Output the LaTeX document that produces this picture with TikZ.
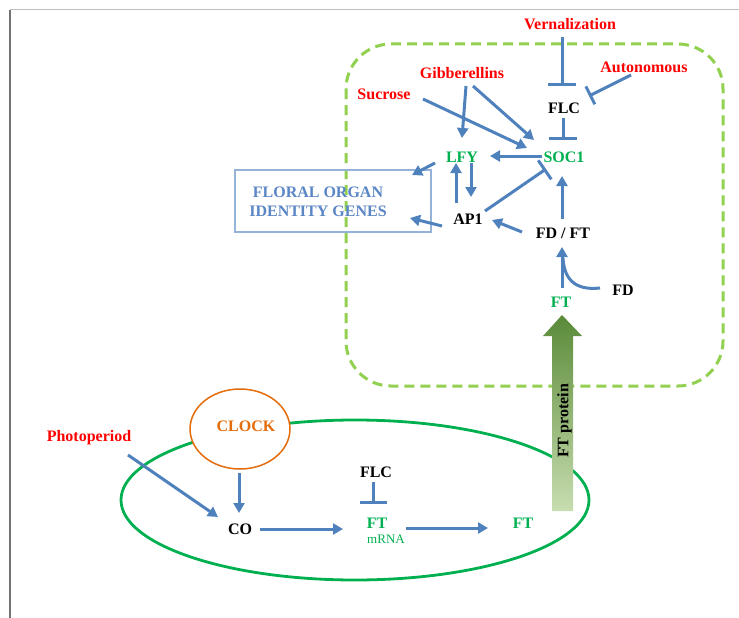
\documentclass[tikz,border=0pt]{standalone}
\usepackage{fontspec}
\setmainfont{Liberation Serif}
\usetikzlibrary{arrows.meta,shapes.geometric}
\definecolor{lblue}{HTML}{4F81BD}
\definecolor{boxblue}{HTML}{95B3D7}
\definecolor{floralblue}{HTML}{5A86C5}
\definecolor{dgreen}{HTML}{92D050}
\definecolor{egreen}{HTML}{00B050}
\definecolor{tgreen}{HTML}{00B050}
\definecolor{corange}{HTML}{E46C0A}
\definecolor{ftdark}{HTML}{5A8A38}
\definecolor{ftlight}{HTML}{C8DDB0}
\begin{document}
\begin{tikzpicture}[x=1pt,y=-1pt,
  lbl/.style={font=\fontsize{16}{19}\selectfont\bfseries, inner sep=1pt, text height=10.6pt, text depth=0pt},
  redlbl/.style={lbl, text=red},
  greenlbl/.style={lbl, text=tgreen},
  blacklbl/.style={lbl, text=black},
  arr/.style={draw=lblue, line width=3pt, -{Triangle[length=10pt,width=11pt]}},
  inh/.style={draw=lblue, line width=3pt, -{Bar[width=#1]}},
  inh/.default=28pt,
  plainline/.style={draw=lblue, line width=3pt}
]
\useasboundingbox (0,0) rectangle (739,618);
% frame lines
\draw[draw=black!25, line width=1pt] (10,10) -- (739,10);
\draw[draw=black!55, line width=1.5pt] (10,10) -- (10,618);

% dashed region
\draw[draw=dgreen, line width=3pt, dash pattern=on 10pt off 6pt, rounded corners=45pt] (346,44) rectangle (723,386);

% green ellipse
\draw[draw=egreen, line width=2.8pt] (355,500) ellipse [x radius=234pt, y radius=80pt];

% clock
\node[ellipse, draw=corange, fill=white, line width=1.5pt, minimum width=96pt, minimum height=80pt,
      font=\fontsize{16}{19}\selectfont\bfseries, text=corange, inner sep=0pt] (clock) at (240,429)
      {\raisebox{5pt}{\hspace{12pt}CLOCK}};

% FT protein arrow
\shade[top color=ftdark, bottom color=ftlight] (552,511) -- (552,336) -- (543,336) -- (562,315) -- (582,336) -- (573,336) -- (573,511) -- cycle;
\node[blacklbl, rotate=90] (ftp) at (563,421) {FT protein};

% top labels
\node[redlbl] (vern) at (570,24) {Vernalization};
\node[redlbl] (auto) at (644,67) {Autonomous};
\node[redlbl] (gib) at (462,73) {Gibberellins};
\node[redlbl] (suc) at (384,94) {Sucrose};
\node[blacklbl] (flca) at (564,108) {FLC};
\node[greenlbl] (soc) at (564,157) {SOC1};
\node[greenlbl] (lfy) at (462,157) {LFY};
\node[blacklbl] (ap1) at (468,219) {AP1};
\node[blacklbl] (fdft) at (563,233) {FD / FT};
\node[greenlbl] (fta) at (561,302) {FT};
\node[blacklbl] (fd) at (623,290) {FD};

% floral box
\node[draw=boxblue, line width=2pt, minimum width=196pt, minimum height=62pt] (floral) at (333,201) {};
\node[font=\fontsize{16}{19}\selectfont\bfseries, text=floralblue, align=center, inner sep=0pt] (floraltext) at (318,202) {FLORAL ORGAN\\IDENTITY GENES};

% bottom labels
\node[redlbl] (photo) at (89,436) {Photoperiod};
\node[blacklbl] (co) at (240,529) {CO};
\node[blacklbl] (flcb) at (376,472) {FLC};
\node[greenlbl] (ftb) at (377,523) {FT};
\node[font=\fontsize{13}{15}\selectfont, text=tgreen, inner sep=1pt] (mrna) at (386,539) {mRNA};
\node[greenlbl] (ftc) at (523,523) {FT};

% top connectors
\draw[inh] ([shift={(-8,13)}]vern.center) -- ([shift={(-2,-22)}]flca.center);
\draw[inh=20pt] ([shift={(-13,8)}]auto.center) -- ([shift={(25,-12)}]flca.center);
\draw[inh] ([shift={(-1,10)}]flca.center) -- ([shift={(-1,-17)}]soc.center);
\draw[arr] ([shift={(4,13)}]gib.center) -- ([shift={(0,-19)}]lfy.center);
\draw[arr] ([shift={(11,13)}]gib.center) -- ([shift={(-30,-17)}]soc.center);
\draw[arr] ([shift={(39,5)}]suc.center) -- ([shift={(-37,-9)}]soc.center);
\draw[arr] ([shift={(-22,-1)}]soc.center) -- ([shift={(28,-1)}]lfy.center);
\draw[arr] ([shift={(-27,6)}]lfy.center) -- ([shift={(79,-26)}]floral.center);
\draw[arr] ([shift={(-12,-16)}]ap1.center) -- ([shift={(-6,6)}]lfy.center);
\draw[arr] ([shift={(9,6)}]lfy.center) -- ([shift={(3,-22)}]ap1.center);
\draw[arr] ([shift={(-26,7)}]ap1.center) -- ([shift={(77,17)}]floral.center);
\draw[inh=23pt] ([shift={(17,-8)}]ap1.center) -- ([shift={(-18,12)}]soc.center);
\draw[arr] ([shift={(-41,-1)}]fdft.center) -- ([shift={(24,1)}]ap1.center);
\draw[arr] ([shift={(-1,-14)}]fdft.center) -- ([shift={(-2,19)}]soc.center);
\draw[arr] ([shift={(1,-14)}]fta.center) -- ([shift={(-1,14)}]fdft.center);
\coordinate (join) at (563,258);
\draw[plainline] ([shift={(-23,-2)}]fd.center) .. controls (573,291) and (564,277) .. (join);

% bottom connectors
\draw[arr] ([shift={(39,19)}]photo.center) -- ([shift={(-22,-12)}]co.center);
\draw[arr] ([shift={(-1,44)}]clock.center) -- ([shift={(-1,-16)}]co.center);
\draw[arr] ([shift={(20,0)}]co.center) -- ([shift={(-34,6)}]ftb.center);
\draw[inh=27pt] ([shift={(-3,10)}]flcb.center) -- ([shift={(-4,-19)}]ftb.center);
\draw[arr] ([shift={(29,5)}]ftb.center) -- ([shift={(-35,5)}]ftc.center);
\end{tikzpicture}
\end{document}
